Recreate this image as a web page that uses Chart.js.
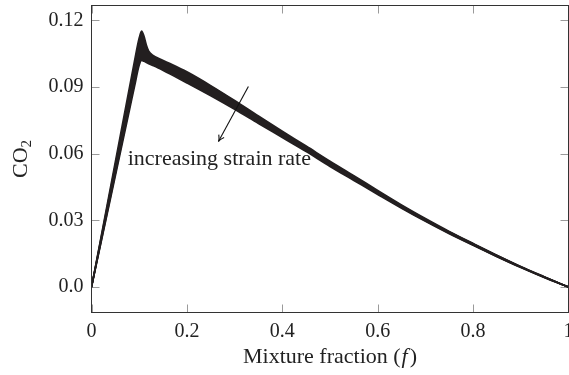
<!DOCTYPE html>
<html><head><meta charset="utf-8">
<script src="https://cdn.jsdelivr.net/npm/chart.js@4.4.1/dist/chart.umd.min.js"></script>
<style>html,body{margin:0;padding:0;background:#fff;overflow:hidden}canvas{display:block}</style>
</head><body>
<canvas id="c" width="569" height="375"></canvas>
<script>
// ---- data ----
const mixtureFraction = [0, 0.02, 0.04, 0.06, 0.08, 0.09, 0.1, 0.105, 0.11, 0.115, 0.12, 0.13, 0.14, 0.17, 0.2, 0.25, 0.3, 0.35, 0.4, 0.45, 0.5, 0.55, 0.6, 0.65, 0.7, 0.75, 0.8, 0.85, 0.9, 0.95, 1];
const co2StrainA = [0, 0.0226, 0.0452, 0.0678, 0.0904, 0.1017, 0.1122, 0.1152, 0.1130, 0.1090, 0.1062, 0.1042, 0.1030, 0.1001, 0.0969, 0.0907, 0.0840, 0.0770, 0.0702, 0.0635, 0.0567, 0.0502, 0.0435, 0.0370, 0.0309, 0.0251, 0.0197, 0.0144, 0.0093, 0.0046, 0];
const co2StrainB = [0, 0.0220, 0.0440, 0.0660, 0.0880, 0.0990, 0.1093, 0.1122, 0.1108, 0.1078, 0.1054, 0.1036, 0.1024, 0.0992, 0.0959, 0.0898, 0.0832, 0.0763, 0.0696, 0.0630, 0.0562, 0.0497, 0.0431, 0.0367, 0.0306, 0.0248, 0.0195, 0.0142, 0.0092, 0.0045, 0];
const co2StrainC = [0, 0.0214, 0.0428, 0.0642, 0.0856, 0.0963, 0.1064, 0.1090, 0.1082, 0.1062, 0.1044, 0.1028, 0.1016, 0.0983, 0.0949, 0.0889, 0.0824, 0.0756, 0.0690, 0.0625, 0.0557, 0.0493, 0.0428, 0.0364, 0.0303, 0.0246, 0.0193, 0.0141, 0.0091, 0.0044, 0];
const co2StrainD = [0, 0.0210, 0.0420, 0.0630, 0.0840, 0.0945, 0.1038, 0.1062, 0.1057, 0.1044, 0.1032, 0.1019, 0.1008, 0.0973, 0.0939, 0.0879, 0.0816, 0.0750, 0.0684, 0.0620, 0.0553, 0.0489, 0.0424, 0.0361, 0.0301, 0.0244, 0.0191, 0.0139, 0.0090, 0.0044, 0];
const co2StrainE = [0, 0.0204, 0.0408, 0.0612, 0.0816, 0.0918, 0.1013, 0.1038, 0.1034, 0.1026, 0.1018, 0.1007, 0.0997, 0.0963, 0.0929, 0.0870, 0.0808, 0.0743, 0.0678, 0.0615, 0.0548, 0.0485, 0.0421, 0.0358, 0.0298, 0.0242, 0.0189, 0.0138, 0.0089, 0.0043, 0];
const co2StrainF = [0, 0.0200, 0.0400, 0.0600, 0.0800, 0.0900, 0.0998, 0.1020, 0.1016, 0.1011, 0.1005, 0.0996, 0.0986, 0.0953, 0.0919, 0.0861, 0.0800, 0.0736, 0.0673, 0.0610, 0.0543, 0.0480, 0.0417, 0.0355, 0.0296, 0.0240, 0.0188, 0.0137, 0.0088, 0.0042, 0];
const seriesList = [co2StrainA, co2StrainB, co2StrainC, co2StrainD, co2StrainE, co2StrainF];

const xTickValues = [0, 0.2, 0.4, 0.6, 0.8, 1];
const xTickLabels = ['0', '0.2', '0.4', '0.6', '0.8', '1'];
const yTickValues = [0, 0.03, 0.06, 0.09, 0.12];
const yTickLabels = ['0.0', '0.03', '0.06', '0.09', '0.12'];
const xTitleMain = 'Mixture fraction (';
const xTitleVar = 'f';
const xTitleEnd = ')';
const yTitleMain = 'CO';
const yTitleSub = '2';
const annotationText = 'increasing strain rate';

// ---- layout / style ----
const X_MIN = 0, X_MAX = 1, Y_MIN = -0.01143, Y_MAX = 0.12675;
const ARROW_FROM = {x: 0.3289, y: 0.0903};
const ARROW_TO = {x: 0.2661, y: 0.0655};
const LABEL_AT = {x: 0.268, y: 0.0577};
const LINE_COLOR = '#231f20';
const TEXT_COLOR = '#222';
const SERIF = '"Liberation Serif", "DejaVu Serif", serif';

const datasets = seriesList.map((s, i) => ({
  data: mixtureFraction.map((f, j) => ({x: f, y: s[j]})),
  borderColor: LINE_COLOR,
  backgroundColor: LINE_COLOR,
  borderWidth: 1.6,
  pointRadius: 0,
  cubicInterpolationMode: 'monotone',
  fill: i === 0 ? '+' + (seriesList.length - 1) : false
}));

function zeroPad(s) { s.paddingLeft = 0; s.paddingRight = 0; s.paddingTop = 0; s.paddingBottom = 0; }

const decor = {
  id: 'decor',
  beforeDatasetsDraw(chart) {
    const {ctx, chartArea: a, scales: {x, y}} = chart;
    ctx.save();
    ctx.strokeStyle = '#9a9a9a';
    ctx.lineWidth = 1;
    ctx.beginPath();
    const TL = 8;
    xTickValues.forEach(v => {
      const px = Math.round(x.getPixelForValue(v)) + 0.5;
      ctx.moveTo(px, a.bottom); ctx.lineTo(px, a.bottom - TL);
      ctx.moveTo(px, a.top); ctx.lineTo(px, a.top + TL);
    });
    yTickValues.forEach(v => {
      const py = Math.round(y.getPixelForValue(v)) + 0.5;
      ctx.moveTo(a.left, py); ctx.lineTo(a.left + TL, py);
      ctx.moveTo(a.right, py); ctx.lineTo(a.right - TL, py);
    });
    ctx.stroke();
    ctx.restore();
  },
  afterDatasetsDraw(chart) {
    const {ctx, chartArea: a, scales: {x, y}} = chart;
    ctx.save();
    // frame
    ctx.strokeStyle = '#333';
    ctx.lineWidth = 1;
    ctx.strokeRect(a.left, a.top, a.right - a.left, a.bottom - a.top);

    // x title
    ctx.fillStyle = TEXT_COLOR;
    ctx.textBaseline = 'middle';
    const fn = '22px ' + SERIF, fi = 'italic 22px ' + SERIF;
    ctx.font = fn; const w1 = ctx.measureText(xTitleMain).width; const w3 = ctx.measureText(xTitleEnd).width;
    ctx.font = fi; const w2 = ctx.measureText(xTitleVar).width + 3;
    const cx = (a.left + a.right) / 2, ty = 357;
    let sx = cx - (w1 + w2 + w3) / 2;
    ctx.textAlign = 'left';
    ctx.font = fn; ctx.fillText(xTitleMain, sx, ty);
    ctx.font = fi; ctx.fillText(xTitleVar, sx + w1 + 1, ty);
    ctx.font = fn; ctx.fillText(xTitleEnd, sx + w1 + w2, ty);

    // y title (rotated)
    ctx.save();
    ctx.translate(21, (a.top + a.bottom) / 2);
    ctx.rotate(-Math.PI / 2);
    ctx.font = fn; const wc = ctx.measureText(yTitleMain).width;
    ctx.font = '15px ' + SERIF; const ws = ctx.measureText(yTitleSub).width;
    const y0 = -(wc + ws) / 2;
    ctx.textAlign = 'left';
    ctx.font = fn; ctx.fillText(yTitleMain, y0, 0);
    ctx.font = '15px ' + SERIF; ctx.fillText(yTitleSub, y0 + wc, 6);
    ctx.restore();

    // annotation arrow
    const x1 = x.getPixelForValue(ARROW_FROM.x), y1 = y.getPixelForValue(ARROW_FROM.y);
    const x2 = x.getPixelForValue(ARROW_TO.x), y2 = y.getPixelForValue(ARROW_TO.y);
    ctx.strokeStyle = '#111';
    ctx.lineWidth = 1.1;
    ctx.beginPath(); ctx.moveTo(x1, y1); ctx.lineTo(x2, y2); ctx.stroke();
    const ang = Math.atan2(y2 - y1, x2 - x1);
    const hl = 7, spread = 0.45;
    ctx.beginPath();
    ctx.moveTo(x2 - hl * Math.cos(ang - spread), y2 - hl * Math.sin(ang - spread));
    ctx.quadraticCurveTo(x2 - 2 * Math.cos(ang), y2 - 2 * Math.sin(ang), x2, y2);
    ctx.quadraticCurveTo(x2 - 2 * Math.cos(ang), y2 - 2 * Math.sin(ang), x2 - hl * Math.cos(ang + spread), y2 - hl * Math.sin(ang + spread));
    ctx.stroke();

    // annotation text
    ctx.font = fn;
    ctx.textAlign = 'center';
    ctx.fillStyle = TEXT_COLOR;
    ctx.fillText(annotationText, x.getPixelForValue(LABEL_AT.x), y.getPixelForValue(LABEL_AT.y));
    ctx.restore();
  }
};

new Chart(document.getElementById('c'), {
  type: 'line',
  data: {datasets},
  options: {
    responsive: false,
    animation: false,
    events: [],
    layout: {padding: {left: 0, right: 0.5, top: 5.5, bottom: 0}},
    plugins: {legend: {display: false}, tooltip: {enabled: false}},
    scales: {
      x: {
        type: 'linear', min: X_MIN, max: X_MAX,
        grid: {display: false, drawTicks: false}, border: {display: false},
        afterBuildTicks: s => { s.ticks = xTickValues.map(v => ({value: v})); },
        afterFit: s => { s.height = 62.5; zeroPad(s); },
        ticks: {
          autoSkip: false, maxRotation: 0, padding: 7,
          color: TEXT_COLOR, font: {family: SERIF, size: 20},
          callback: (v, i) => xTickLabels[i]
        }
      },
      y: {
        type: 'linear', min: Y_MIN, max: Y_MAX,
        grid: {display: false, drawTicks: false}, border: {display: false},
        afterBuildTicks: s => { s.ticks = yTickValues.map(v => ({value: v})); },
        afterFit: s => { s.width = 91.5; zeroPad(s); },
        ticks: {
          autoSkip: false, padding: 8,
          color: TEXT_COLOR, font: {family: SERIF, size: 20},
          callback: (v, i) => yTickLabels[i]
        }
      }
    }
  },
  plugins: [decor]
});
</script>
</body></html>
